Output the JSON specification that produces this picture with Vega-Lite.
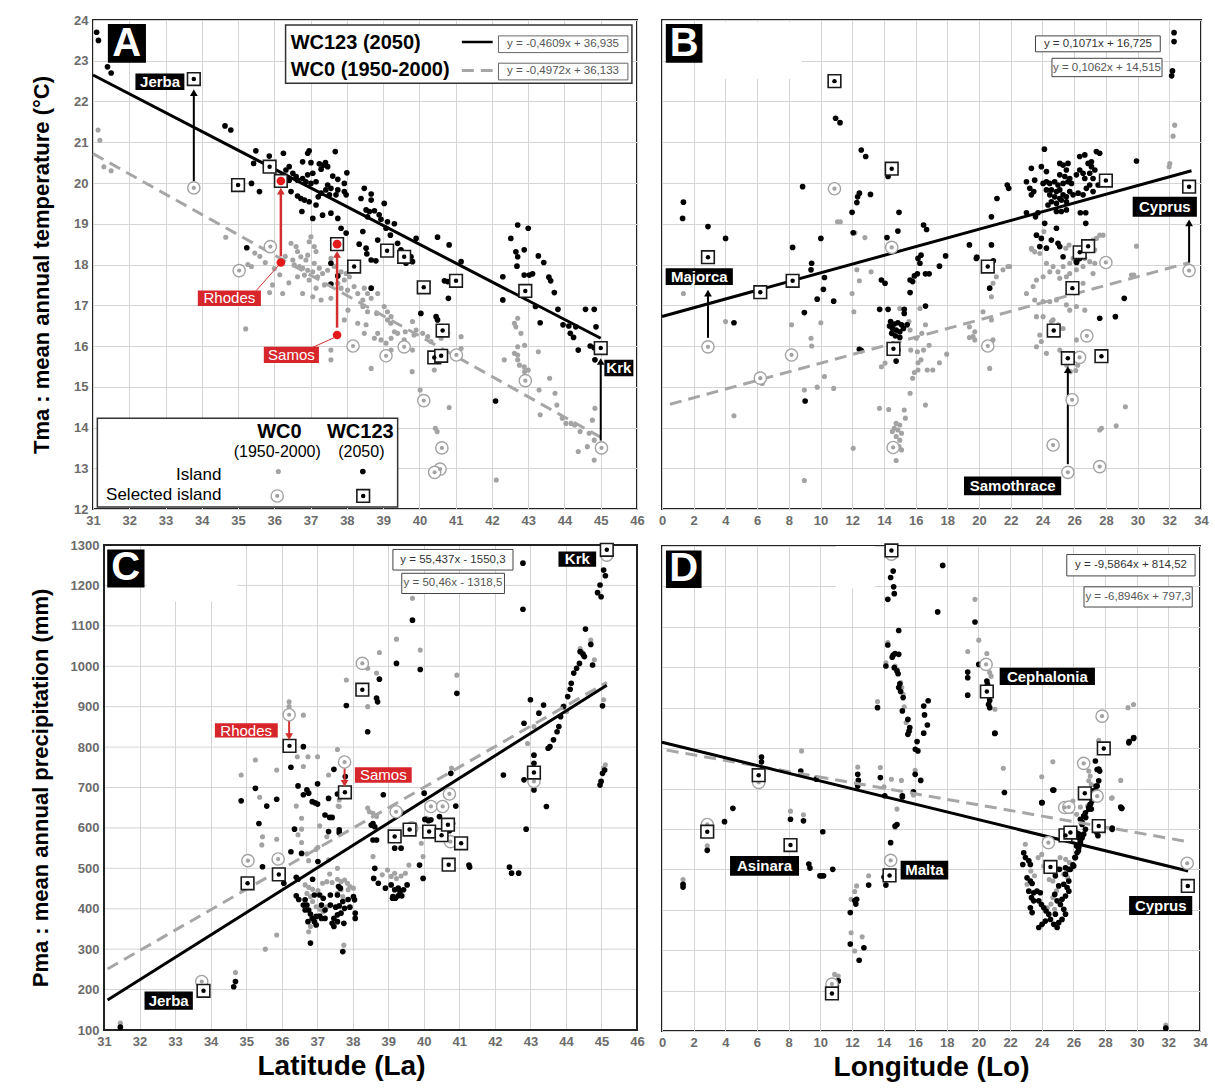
{
"$schema":"https://vega.github.io/schema/vega-lite/v6.json",
"padding":{"left":29,"top":13,"right":0,"bottom":0},
"config":{"font":"Liberation Sans","view":{"stroke":"#222","strokeWidth":2},
"axis":{"gridColor":"#d4d4d4","gridWidth":1,"domain":false,"ticks":false,"labelFont":"Liberation Sans","labelFontWeight":"bold","labelFontSize":13,"labelColor":"#6b6b6b","labelPadding":5,"titleFont":"Liberation Sans","titleFontWeight":"bold","titleColor":"#000","labelFlush":false,"labelOverlap":false,"minExtent":0}},
"datasets":{
"A0":[{"x":31.14,"y":21.3},{"x":31.19,"y":21.05},{"x":31.3,"y":20.4},{"x":31.5,"y":20.3},{"x":34.66,"y":18.67},{"x":35.27,"y":18.0},{"x":35.46,"y":18.28},{"x":35.21,"y":16.42},{"x":35.87,"y":17.31},{"x":35.6,"y":18.2},{"x":35.75,"y":18.05},{"x":36.0,"y":17.9},{"x":36.3,"y":18.2},{"x":36.15,"y":17.75},{"x":35.95,"y":17.5},{"x":36.4,"y":17.55},
{"x":36.46,"y":18.52},{"x":36.6,"y":18.44},{"x":36.64,"y":18.32},{"x":36.73,"y":18.19},{"x":36.87,"y":18.11},{"x":37.01,"y":18.68},{"x":36.96,"y":18.56},{"x":37.1,"y":18.44},{"x":37.15,"y":18.32},{"x":36.92,"y":18.23},{"x":36.51,"y":18.11},{"x":36.55,"y":17.99},{"x":36.69,"y":17.95},{"x":36.78,"y":17.91},{"x":36.92,"y":17.86},{"x":37.06,"y":17.82},{"x":36.83,"y":17.74},{"x":36.64,"y":17.7},{"x":36.96,"y":17.62},{"x":37.19,"y":17.7},{"x":37.33,"y":17.78},{"x":37.24,"y":17.91},{"x":37.1,"y":18.03},{"x":37.47,"y":17.86},{"x":37.56,"y":18.15},{"x":37.65,"y":17.95},{"x":37.84,"y":17.82},{"x":37.98,"y":17.78},{"x":38.07,"y":17.7},{"x":37.93,"y":17.62},{"x":37.75,"y":17.54},{"x":37.38,"y":17.5},{"x":37.15,"y":17.42},{"x":36.78,"y":17.29},{"x":36.23,"y":17.29},{"x":37.06,"y":17.21},{"x":37.29,"y":17.13},{"x":37.56,"y":17.17},{"x":37.84,"y":17.42},{"x":38.02,"y":17.37},{"x":38.2,"y":17.46},{"x":38.3,"y":17.29},{"x":38.48,"y":17.42},{"x":38.57,"y":17.29},{"x":38.44,"y":17.13},{"x":38.67,"y":17.17},{"x":38.85,"y":17.29},{"x":39.03,"y":16.97},{"x":39.12,"y":16.84},{"x":39.22,"y":16.72},{"x":39.12,"y":16.64},{"x":38.57,"y":16.84},{"x":38.44,"y":16.97},{"x":38.53,"y":16.52},{"x":38.48,"y":16.31},{"x":38.3,"y":16.56},{"x":37.93,"y":16.64},{"x":38.85,"y":16.31},{"x":38.94,"y":16.15},{"x":38.76,"y":16.19},{"x":39.22,"y":16.19},{"x":39.08,"y":16.07},{"x":39.22,"y":15.9},{"x":39.58,"y":16.15},{"x":39.4,"y":16.31},{"x":39.81,"y":16.6},{"x":39.91,"y":16.39},{"x":40.09,"y":16.31},{"x":40.23,"y":16.23},{"x":39.81,"y":15.9},{"x":40.32,"y":16.11},{"x":40.6,"y":16.19},{"x":40.78,"y":16.31},{"x":41.15,"y":16.23},{"x":40.41,"y":15.41},{"x":41.15,"y":15.94},{"x":35.37,"y":17.95},{"x":37.56,"y":15.9},{"x":37.56,"y":15.66},{"x":38.67,"y":15.45},{"x":42.62,"y":16.56},{"x":42.71,"y":16.68},{"x":42.8,"y":16.31},{"x":42.71,"y":15.98},{"x":42.62,"y":15.82},{"x":42.71,"y":15.66},{"x":42.89,"y":15.49},{"x":42.34,"y":15.66},
{"x":40.82,"y":14.49},{"x":42.71,"y":15.78},{"x":42.76,"y":15.53},{"x":42.9,"y":15.37},{"x":43.0,"y":15.41},{"x":43.0,"y":15.13},{"x":43.3,"y":14.92},{"x":43.33,"y":14.31},{"x":43.59,"y":15.21},{"x":43.74,"y":14.84},{"x":43.79,"y":14.55},{"x":43.94,"y":14.23},{"x":44.04,"y":14.1},{"x":44.18,"y":14.1},{"x":44.28,"y":14.06},{"x":44.43,"y":13.9},{"x":44.38,"y":13.41},{"x":44.63,"y":13.53},{"x":44.82,"y":13.69},{"x":44.82,"y":13.2},{"x":44.84,"y":14.47},{"x":44.77,"y":14.18},{"x":44.68,"y":13.86},{"x":43.28,"y":15.86},{"x":42.66,"y":16.47},{"x":42.9,"y":16.02},{"x":42.12,"y":12.71},{"x":40.02,"y":14.92},{"x":40.44,"y":13.98},{"x":40.49,"y":13.9},{"x":39.8,"y":15.37},{"x":38.03,"y":16.88},{"x":38.82,"y":16.8},{"x":39.21,"y":16.56},{"x":39.31,"y":16.35},{"x":39.61,"y":16.35},{"x":39.85,"y":16.27},
{"x":36.11,"y":12.92}],
"A1":[{"x":31.1,"y":23.7},{"x":31.15,"y":23.5},{"x":31.4,"y":22.85},{"x":31.5,"y":22.7},{"x":34.64,"y":21.4},{"x":34.8,"y":21.3},
{"x":35.49,"y":20.79},{"x":36.25,"y":20.73},{"x":35.86,"y":20.66},{"x":36.96,"y":20.79},{"x":36.92,"y":20.73},{"x":36.78,"y":20.52},{"x":37.01,"y":20.5},{"x":37.68,"y":20.77},{"x":37.24,"y":20.47},{"x":37.36,"y":20.44},{"x":37.47,"y":20.4},{"x":37.41,"y":20.5},{"x":37.29,"y":20.34},{"x":36.41,"y":20.4},{"x":36.32,"y":20.32},{"x":36.51,"y":20.24},{"x":36.6,"y":20.16},{"x":36.41,"y":20.07},{"x":36.64,"y":20.07},{"x":36.28,"y":19.99},{"x":36.78,"y":20.11},{"x":36.92,"y":20.2},{"x":37.06,"y":20.24},{"x":36.87,"y":20.03},{"x":37.01,"y":19.99},{"x":37.15,"y":20.03},{"x":38.0,"y":20.25},{"x":37.61,"y":20.17},{"x":37.75,"y":20.09},{"x":37.93,"y":19.99},{"x":37.47,"y":19.95},{"x":37.42,"y":19.83},{"x":37.56,"y":19.87},{"x":37.75,"y":19.83},{"x":37.93,"y":19.79},{"x":37.98,"y":19.71},{"x":37.7,"y":19.71},{"x":37.52,"y":19.71},{"x":37.29,"y":19.75},{"x":37.21,"y":19.66},{"x":36.96,"y":19.54},{"x":36.73,"y":19.62},{"x":36.64,"y":19.68},{"x":36.83,"y":19.58},{"x":36.46,"y":19.79},{"x":35.59,"y":19.79},{"x":35.37,"y":19.99},{"x":35.43,"y":20.48},{"x":37.15,"y":19.46},{"x":37.33,"y":19.21},{"x":37.06,"y":19.13},{"x":37.56,"y":19.26},{"x":37.75,"y":19.13},{"x":36.76,"y":19.3},{"x":37.84,"y":18.89},{"x":37.98,"y":18.77},{"x":38.48,"y":19.87},{"x":38.67,"y":19.73},{"x":38.39,"y":19.62},{"x":39.03,"y":19.5},{"x":38.67,"y":19.58},{"x":38.53,"y":19.34},{"x":38.62,"y":19.3},{"x":38.76,"y":19.32},{"x":38.89,"y":19.22},{"x":38.57,"y":19.17},{"x":38.94,"y":19.11},{"x":39.12,"y":19.05},{"x":39.31,"y":19.0},{"x":39.08,"y":18.89},{"x":39.2,"y":18.72},{"x":38.44,"y":18.81},{"x":38.85,"y":18.6},{"x":38.34,"y":18.5},{"x":38.53,"y":18.4},{"x":38.55,"y":18.26},{"x":38.67,"y":18.11},{"x":38.8,"y":18.09},{"x":39.4,"y":18.52},{"x":39.49,"y":18.36},{"x":39.91,"y":18.64},{"x":40.5,"y":18.67},{"x":40.82,"y":18.48},{"x":39.77,"y":18.19},{"x":39.81,"y":18.07},{"x":39.63,"y":18.03},{"x":40.78,"y":17.58},{"x":40.69,"y":17.6},{"x":40.8,"y":17.17},{"x":40.04,"y":16.8},{"x":40.46,"y":16.72},{"x":40.5,"y":16.64},{"x":35.24,"y":18.41},{"x":37.56,"y":18.03},{"x":37.56,"y":17.52},{"x":37.75,"y":17.72},{"x":38.67,"y":17.42},{"x":42.71,"y":18.97},{"x":43.0,"y":18.89},{"x":42.52,"y":18.64},{"x":42.89,"y":18.36},{"x":42.66,"y":18.31},{"x":42.71,"y":18.19},{"x":42.3,"y":17.7},{"x":42.3,"y":17.13},{"x":42.89,"y":17.74},{"x":43.03,"y":17.74},{"x":42.8,"y":17.29},{"x":41.15,"y":18.07},
{"x":43.28,"y":18.21},{"x":43.43,"y":18.05},{"x":42.69,"y":17.96},{"x":43.12,"y":17.77},{"x":43.57,"y":17.69},{"x":43.62,"y":17.6},{"x":43.72,"y":17.31},{"x":43.2,"y":16.97},{"x":43.33,"y":16.57},{"x":43.82,"y":16.9},{"x":43.96,"y":16.52},{"x":44.12,"y":16.49},{"x":44.16,"y":16.31},{"x":44.25,"y":16.21},{"x":44.31,"y":16.47},{"x":44.58,"y":16.9},{"x":44.82,"y":16.9},{"x":44.87,"y":16.47},{"x":44.38,"y":15.9},{"x":44.71,"y":16.0},{"x":44.82,"y":15.96},{"x":44.84,"y":15.66},{"x":44.94,"y":15.9},{"x":42.1,"y":14.65},
{"x":38.44,"y":12.92}],
"Ac":[{"x":33.78,"y":19.88},{"x":35.03,"y":17.85},{"x":35.89,"y":18.44},{"x":38.17,"y":16.0},{"x":39.08,"y":15.76},{"x":39.58,"y":15.98},{"x":41.02,"y":15.78},{"x":40.12,"y":14.66},{"x":40.62,"y":13.5},{"x":40.57,"y":12.98},{"x":40.42,"y":12.9},{"x":42.92,"y":15.15},{"x":45.02,"y":13.5},{"x":36.08,"y":12.32}],
"As":[{"x":33.78,"y":22.55},{"x":35.0,"y":19.95},{"x":35.87,"y":20.4},{"x":36.18,"y":20.05},{"x":37.73,"y":18.5},{"x":38.2,"y":17.95},{"x":39.11,"y":18.34},{"x":39.58,"y":18.19},{"x":40.12,"y":17.44},{"x":41.01,"y":17.6},{"x":40.64,"y":16.38},{"x":40.41,"y":15.72},{"x":40.6,"y":15.76},{"x":42.92,"y":17.35},{"x":45.0,"y":15.95},{"x":38.45,"y":12.32}],
"red":[{"x":36.18,"y":18.05},{"x":37.73,"y":16.27},{"x":36.18,"y":20.05},{"x":37.73,"y":18.5}],
"B0":[{"x":1.35,"y":17.29},{"x":4.01,"y":16.6},{"x":4.54,"y":14.29},{"x":6.32,"y":15.08},{"x":8.17,"y":16.52},{"x":8.98,"y":14.92},{"x":9.79,"y":14.99},{"x":10.83,"y":14.96},{"x":9.4,"y":16.19},{"x":9.44,"y":16.0},{"x":10.02,"y":16.57},{"x":10.25,"y":15.25},{"x":8.98,"y":12.7},{"x":12.1,"y":16.84},{"x":12.29,"y":17.87},{"x":12.45,"y":17.6},{"x":13.19,"y":17.82},{"x":11.99,"y":17.29},{"x":12.06,"y":13.49},{"x":13.84,"y":15.49},{"x":14.07,"y":15.58},{"x":13.72,"y":14.47},{"x":14.3,"y":14.44},{"x":14.77,"y":14.1},{"x":15.0,"y":14.06},{"x":14.65,"y":13.98},{"x":14.88,"y":13.94},{"x":14.53,"y":13.9},{"x":15.11,"y":13.86},{"x":14.77,"y":13.78},{"x":15.0,"y":13.69},{"x":15.28,"y":14.43},{"x":15.35,"y":14.23},{"x":15.11,"y":13.45},{"x":14.77,"y":13.19},{"x":14.95,"y":13.53},{"x":14.42,"y":13.53},{"x":15.0,"y":16.92},{"x":15.58,"y":16.6},{"x":15.65,"y":14.84},{"x":16.04,"y":16.19},{"x":15.81,"y":15.21},{"x":15.92,"y":15.35},{"x":16.15,"y":15.59},{"x":16.34,"y":15.66},{"x":16.5,"y":15.9},{"x":16.62,"y":14.55},{"x":16.85,"y":16.02},{"x":16.73,"y":15.41},{"x":17.08,"y":15.41},{"x":17.5,"y":15.59},{"x":17.96,"y":15.8},{"x":16.11,"y":15.86},{"x":16.39,"y":16.31},{"x":16.62,"y":16.52},{"x":16.27,"y":16.92},{"x":15.65,"y":16.39},{"x":15.69,"y":15.9},{"x":16.15,"y":15.41},{"x":19.39,"y":16.47},{"x":19.39,"y":16.21},{"x":27.61,"y":13.94},{"x":27.72,"y":13.98},{"x":28.65,"y":14.04},{"x":29.23,"y":14.51},
{"x":32.34,"y":21.42},{"x":32.24,"y":21.15},{"x":32.03,"y":20.48},{"x":31.99,"y":20.4},{"x":29.93,"y":18.45},{"x":29.61,"y":17.74},{"x":27.61,"y":18.72},{"x":27.82,"y":18.72},{"x":27.4,"y":18.64},{"x":27.19,"y":18.6},{"x":26.98,"y":18.52},{"x":27.09,"y":18.44},{"x":27.3,"y":18.36},{"x":26.67,"y":18.15},{"x":26.98,"y":18.07},{"x":27.3,"y":18.03},{"x":26.56,"y":17.95},{"x":26.14,"y":17.87},{"x":25.72,"y":17.78},{"x":25.51,"y":17.7},{"x":25.09,"y":17.66},{"x":24.98,"y":17.82},{"x":24.67,"y":17.95},{"x":24.25,"y":18.03},{"x":24.46,"y":17.82},{"x":24.04,"y":17.7},{"x":23.62,"y":17.62},{"x":23.3,"y":18.4},{"x":23.51,"y":18.31},{"x":23.83,"y":18.27},{"x":25.3,"y":17.95},{"x":25.72,"y":18.03},{"x":25.93,"y":18.15},{"x":26.25,"y":18.11},{"x":25.47,"y":18.4},{"x":25.68,"y":18.48},{"x":23.41,"y":17.46},{"x":22.99,"y":17.29},{"x":23.51,"y":17.13},{"x":24.04,"y":17.09},{"x":24.46,"y":17.09},{"x":24.88,"y":17.13},{"x":25.51,"y":17.01},{"x":26.14,"y":16.97},{"x":26.56,"y":17.54},{"x":27.19,"y":17.78},{"x":26.67,"y":16.88},{"x":25.72,"y":16.88},{"x":24.67,"y":16.64},{"x":24.04,"y":16.72},{"x":23.62,"y":16.72},{"x":24.56,"y":16.6},{"x":24.98,"y":16.52},{"x":25.3,"y":16.43},{"x":23.83,"y":16.27},{"x":23.93,"y":16.11},{"x":23.62,"y":15.98},{"x":25.09,"y":15.9},{"x":25.61,"y":15.82},{"x":26.14,"y":16.15},{"x":24.25,"y":15.82},{"x":21.93,"y":17.95},{"x":21.51,"y":17.87},{"x":21.09,"y":17.7},{"x":20.88,"y":17.54},{"x":20.78,"y":17.21},{"x":20.25,"y":16.84},{"x":20.78,"y":16.64},{"x":19.73,"y":16.35},{"x":19.62,"y":16.23},{"x":19.73,"y":16.15},{"x":20.88,"y":16.15},{"x":20.67,"y":15.45},{"x":21.82,"y":17.95},{"x":26.22,"y":15.53},{"x":25.53,"y":15.53},{"x":26.1,"y":15.4},{"x":25.76,"y":15.37},{"x":29.76,"y":17.74},
{"x":11.07,"y":19.05},{"x":11.25,"y":19.05},{"x":12.17,"y":18.78},{"x":12.8,"y":18.66},{"x":24.09,"y":18.81},{"x":23.33,"y":18.37}],
"B1":[{"x":32.3,"y":23.69},{"x":32.3,"y":23.47},{"x":32.2,"y":22.75},{"x":32.15,"y":22.63},{"x":1.35,"y":19.53},{"x":1.3,"y":19.13},{"x":2.9,"y":18.93},{"x":4.01,"y":18.64},{"x":8.87,"y":19.91},{"x":10.95,"y":21.59},{"x":11.23,"y":21.48},{"x":12.57,"y":20.81},{"x":12.85,"y":20.65},{"x":12.34,"y":19.66},{"x":12.45,"y":19.75},{"x":12.29,"y":19.52},{"x":13.15,"y":19.72},{"x":11.99,"y":19.28},{"x":12.06,"y":18.78},{"x":14.19,"y":18.66},{"x":14.26,"y":20.16},{"x":14.95,"y":19.28},{"x":14.88,"y":18.82},{"x":10.02,"y":18.64},{"x":8.24,"y":18.42},{"x":16.5,"y":18.97},{"x":16.69,"y":18.86},{"x":19.39,"y":18.48},{"x":20.78,"y":19.17},{"x":20.78,"y":18.48},{"x":21.13,"y":19.62},{"x":21.78,"y":19.95},{"x":21.87,"y":19.87},
{"x":24.12,"y":20.83},{"x":23.3,"y":20.36},{"x":23.93,"y":20.4},{"x":24.25,"y":20.28},{"x":22.99,"y":20.03},{"x":23.51,"y":20.07},{"x":23.2,"y":19.87},{"x":23.45,"y":19.79},{"x":23.3,"y":19.71},{"x":24.04,"y":19.99},{"x":24.25,"y":20.03},{"x":24.46,"y":19.99},{"x":24.77,"y":20.03},{"x":24.98,"y":19.95},{"x":25.3,"y":19.99},{"x":25.61,"y":20.03},{"x":25.83,"y":19.99},{"x":25.09,"y":20.48},{"x":25.3,"y":20.44},{"x":25.61,"y":20.48},{"x":25.51,"y":20.32},{"x":25.09,"y":20.2},{"x":25.41,"y":20.16},{"x":25.72,"y":20.11},{"x":24.25,"y":19.83},{"x":24.56,"y":19.83},{"x":24.88,"y":19.79},{"x":25.09,"y":19.83},{"x":24.46,"y":19.71},{"x":24.77,"y":19.66},{"x":25.09,"y":19.62},{"x":25.3,"y":19.71},{"x":25.51,"y":19.66},{"x":25.72,"y":19.79},{"x":25.93,"y":19.71},{"x":26.25,"y":19.75},{"x":26.56,"y":19.71},{"x":24.56,"y":19.54},{"x":24.35,"y":19.46},{"x":24.88,"y":19.5},{"x":25.19,"y":19.58},{"x":25.51,"y":19.54},{"x":26.35,"y":20.65},{"x":26.67,"y":20.69},{"x":26.88,"y":20.48},{"x":27.09,"y":20.4},{"x":27.3,"y":20.32},{"x":27.4,"y":20.77},{"x":27.61,"y":20.73},{"x":27.09,"y":20.52},{"x":26.98,"y":20.24},{"x":27.19,"y":20.11},{"x":26.98,"y":19.95},{"x":26.77,"y":19.87},{"x":27.19,"y":19.79},{"x":27.51,"y":19.95},{"x":26.35,"y":20.32},{"x":26.56,"y":20.24},{"x":26.14,"y":20.2},{"x":26.67,"y":20.11},{"x":23.72,"y":19.27},{"x":22.99,"y":19.27},{"x":23.56,"y":19.17},{"x":25.51,"y":19.34},{"x":25.19,"y":19.3},{"x":24.88,"y":19.3},{"x":26.39,"y":19.27},{"x":26.73,"y":19.27},{"x":26.73,"y":19.01},{"x":24.88,"y":18.89},{"x":24.14,"y":19.01},{"x":23.62,"y":18.72},{"x":23.93,"y":18.64},{"x":23.83,"y":18.44},{"x":24.25,"y":18.4},{"x":24.56,"y":18.6},{"x":24.98,"y":18.52},{"x":25.09,"y":18.44},{"x":25.3,"y":18.19},{"x":26.14,"y":18.07},{"x":26.35,"y":18.15},{"x":26.56,"y":18.31},{"x":26.88,"y":18.52},{"x":19.83,"y":18.15},{"x":29.93,"y":20.54},
{"x":9.44,"y":18.03},{"x":9.4,"y":17.87},{"x":10.25,"y":17.68},{"x":10.18,"y":17.39},{"x":9.79,"y":17.15},{"x":10.83,"y":17.1},{"x":8.98,"y":16.82},{"x":4.54,"y":16.57},{"x":9.03,"y":14.65},{"x":12.45,"y":15.92},{"x":12.57,"y":15.89},{"x":13.73,"y":16.9},{"x":14.26,"y":16.9},{"x":13.84,"y":17.62},{"x":14.07,"y":17.54},{"x":14.42,"y":16.6},{"x":14.65,"y":16.54},{"x":14.88,"y":16.57},{"x":15.11,"y":16.52},{"x":14.53,"y":16.43},{"x":14.77,"y":16.39},{"x":15.0,"y":16.35},{"x":15.23,"y":16.43},{"x":14.49,"y":16.31},{"x":14.72,"y":16.25},{"x":15.0,"y":16.21},{"x":14.58,"y":16.05},{"x":14.88,"y":15.9},{"x":14.77,"y":15.63},{"x":14.35,"y":16.49},{"x":15.46,"y":16.52},{"x":15.28,"y":16.9},{"x":15.28,"y":16.8},{"x":15.65,"y":17.31},{"x":15.81,"y":17.58},{"x":15.65,"y":17.62},{"x":15.92,"y":17.72},{"x":16.11,"y":17.77},{"x":16.27,"y":18.03},{"x":16.15,"y":18.15},{"x":16.34,"y":18.23},{"x":16.62,"y":17.77},{"x":16.85,"y":17.77},{"x":17.5,"y":17.96},{"x":17.89,"y":18.21},{"x":16.62,"y":16.98},{"x":19.86,"y":18.18},{"x":20.9,"y":18.09},{"x":20.67,"y":17.42},{"x":26.15,"y":18.05},{"x":29.16,"y":17.17},{"x":27.61,"y":16.68},{"x":28.6,"y":16.72}],
"Bc":[{"x":2.9,"y":15.98},{"x":6.2,"y":15.21},{"x":8.17,"y":15.78},{"x":10.88,"y":19.86},{"x":14.49,"y":18.42},{"x":14.58,"y":13.51},{"x":20.55,"y":16.0},{"x":24.67,"y":13.57},{"x":25.6,"y":12.9},{"x":25.87,"y":14.68},{"x":26.34,"y":15.72},{"x":26.8,"y":16.25},{"x":27.61,"y":13.04},{"x":28.0,"y":18.05},{"x":33.25,"y":17.85}],
"Bs":[{"x":2.9,"y":18.18},{"x":6.2,"y":17.32},{"x":8.24,"y":17.6},{"x":10.88,"y":22.5},{"x":14.49,"y":20.35},{"x":14.6,"y":15.93},{"x":20.55,"y":17.95},{"x":24.71,"y":16.38},{"x":25.6,"y":15.7},{"x":25.89,"y":17.42},{"x":26.35,"y":18.3},{"x":26.88,"y":18.45},{"x":28.0,"y":20.06},{"x":27.72,"y":15.75},{"x":33.25,"y":19.91}],
"C0":[{"x":39.68,"y":1168},{"x":39.23,"y":1067},{"x":39.9,"y":1040},{"x":38.75,"y":1034},{"x":38.42,"y":995},{"x":37.82,"y":966},{"x":38.67,"y":983},{"x":38.42,"y":900},{"x":40.93,"y":978},{"x":36.21,"y":912},{"x":36.21,"y":900},{"x":36.61,"y":879},{"x":35.26,"y":768},{"x":34.86,"y":731},{"x":35.86,"y":743},{"x":36.44,"y":776},{"x":36.74,"y":776},{"x":36.61,"y":752},{"x":37.01,"y":776},{"x":37.57,"y":794},{"x":37.32,"y":731},{"x":37.62,"y":669},{"x":37.62,"y":653},{"x":40.78,"y":748},{"x":43.1,"y":851},{"x":42.92,"y":809},{"x":43.95,"y":902},{"x":44.02,"y":888},{"x":44.4,"y":1044},{"x":44.45,"y":1036},{"x":44.7,"y":1065},{"x":44.8,"y":1016},{"x":44.5,"y":1024},{"x":45.06,"y":917},{"x":45.11,"y":756},{"x":45.06,"y":748},
{"x":35.38,"y":676},{"x":36.41,"y":654},{"x":35.86,"y":572},{"x":35.44,"y":558},{"x":36.56,"y":597},{"x":36.56,"y":564},{"x":36.76,"y":519},{"x":36.71,"y":536},{"x":37.07,"y":605},{"x":37.27,"y":578},{"x":37.32,"y":521},{"x":37.35,"y":486},{"x":37.57,"y":500},{"x":36.97,"y":547},{"x":37.02,"y":552},{"x":36.66,"y":459},{"x":36.76,"y":453},{"x":36.87,"y":448},{"x":37.02,"y":445},{"x":37.15,"y":463},{"x":37.27,"y":467},{"x":37.42,"y":465},{"x":37.57,"y":473},{"x":37.67,"y":467},{"x":37.77,"y":471},{"x":37.85,"y":463},{"x":37.92,"y":455},{"x":38.02,"y":451},{"x":37.67,"y":447},{"x":37.57,"y":438},{"x":36.71,"y":438},{"x":36.81,"y":430},{"x":36.87,"y":418},{"x":36.97,"y":405},{"x":37.07,"y":399},{"x":37.17,"y":393},{"x":37.27,"y":405},{"x":37.72,"y":430},{"x":37.87,"y":447},{"x":36.76,"y":343},{"x":36.81,"y":356},{"x":37.75,"y":310},{"x":35.86,"y":335},{"x":35.54,"y":300},{"x":34.7,"y":242},{"x":31.46,"y":117},{"x":36.56,"y":624},{"x":36.46,"y":583},{"x":35.46,"y":578},{"x":37.59,"y":654},{"x":38.42,"y":649},{"x":38.47,"y":640},{"x":38.57,"y":636},{"x":38.67,"y":628},{"x":38.57,"y":529},{"x":38.83,"y":484},{"x":38.98,"y":496},{"x":39.08,"y":480},{"x":39.18,"y":488},{"x":39.23,"y":475},{"x":39.36,"y":481},{"x":39.48,"y":488},{"x":39.58,"y":508},{"x":39.13,"y":636},{"x":39.38,"y":640},{"x":39.23,"y":646},{"x":39.66,"y":607},{"x":39.93,"y":562},{"x":39.98,"y":529},{"x":40.08,"y":624}],
"C1":[{"x":42.79,"y":1255},{"x":42.79,"y":1141},{"x":39.68,"y":1114},{"x":39.23,"y":1007},{"x":39.9,"y":992},{"x":38.75,"y":968},{"x":38.67,"y":921},{"x":38.7,"y":912},{"x":37.82,"y":903},{"x":38.42,"y":838},{"x":40.93,"y":933},{"x":45.06,"y":1238},{"x":45.11,"y":1224},{"x":44.96,"y":1201},{"x":44.89,"y":1182},{"x":44.99,"y":1172},{"x":44.55,"y":1092},{"x":44.7,"y":1054},{"x":44.4,"y":1036},{"x":44.48,"y":1030},{"x":44.52,"y":1024},{"x":44.38,"y":1007},{"x":44.3,"y":995},{"x":44.22,"y":983},{"x":44.75,"y":1003},{"x":44.15,"y":958},{"x":44.12,"y":943},{"x":44.05,"y":925},{"x":43.93,"y":900},{"x":43.85,"y":875},{"x":43.8,"y":851},{"x":43.75,"y":838},{"x":43.65,"y":818},{"x":43.55,"y":801},{"x":43.5,"y":797},{"x":45.03,"y":902},{"x":45.03,"y":735},{"x":44.99,"y":715},{"x":44.96,"y":706},{"x":45.09,"y":743},{"x":43.0,"y":917},{"x":43.37,"y":904},{"x":43.24,"y":884},{"x":42.82,"y":859},{"x":43.1,"y":780},{"x":43.1,"y":760},{"x":43.08,"y":748},{"x":43.05,"y":720},{"x":42.82,"y":719},{"x":43.1,"y":694},{"x":42.24,"y":731},{"x":40.76,"y":735},{"x":40.9,"y":654},{"x":40.63,"y":682},{"x":43.45,"y":653},{"x":38.86,"y":682},{"x":37.47,"y":745},{"x":37.79,"y":727},{"x":36.61,"y":801},{"x":36.26,"y":750},{"x":36.46,"y":704},{"x":36.61,"y":682},{"x":36.71,"y":694},{"x":36.76,"y":686},{"x":36.86,"y":665},{"x":36.94,"y":662},{"x":37.01,"y":659},{"x":37.01,"y":709},{"x":37.32,"y":673},{"x":37.57,"y":684},{"x":35.26,"y":698},{"x":34.86,"y":667},{"x":35.58,"y":654},{"x":35.86,"y":671},
{"x":35.36,"y":611},{"x":35.46,"y":504},{"x":37.22,"y":632},{"x":37.35,"y":626},{"x":37.42,"y":626},{"x":37.32,"y":591},{"x":37.62,"y":595},{"x":37.62,"y":588},{"x":36.36,"y":597},{"x":36.26,"y":541},{"x":36.56,"y":537},{"x":37.02,"y":517},{"x":35.86,"y":521},{"x":36.06,"y":463},{"x":36.41,"y":478},{"x":36.46,"y":473},{"x":36.41,"y":432},{"x":36.48,"y":423},{"x":36.87,"y":473},{"x":36.92,"y":434},{"x":36.66,"y":422},{"x":36.71,"y":409},{"x":36.76,"y":397},{"x":36.81,"y":387},{"x":36.86,"y":376},{"x":36.97,"y":381},{"x":37.07,"y":382},{"x":36.92,"y":368},{"x":36.97,"y":360},{"x":37.12,"y":376},{"x":37.22,"y":376},{"x":37.17,"y":426},{"x":37.07,"y":434},{"x":37.12,"y":409},{"x":37.22,"y":397},{"x":37.37,"y":434},{"x":37.57,"y":434},{"x":37.65,"y":451},{"x":37.37,"y":409},{"x":37.52,"y":404},{"x":37.62,"y":407},{"x":37.72,"y":418},{"x":37.87,"y":423},{"x":38.02,"y":430},{"x":38.05,"y":422},{"x":37.92,"y":404},{"x":38.07,"y":389},{"x":38.07,"y":376},{"x":37.77,"y":401},{"x":37.67,"y":389},{"x":37.57,"y":385},{"x":37.47,"y":376},{"x":37.57,"y":368},{"x":37.42,"y":364},{"x":37.47,"y":356},{"x":37.75,"y":364},{"x":37.72,"y":294},{"x":36.81,"y":315},{"x":36.74,"y":368},{"x":36.61,"y":409},{"x":36.66,"y":397},{"x":38.57,"y":611},{"x":38.52,"y":607},{"x":38.62,"y":603},{"x":38.67,"y":570},{"x":38.57,"y":570},{"x":38.62,"y":500},{"x":38.59,"y":475},{"x":38.72,"y":463},{"x":38.92,"y":451},{"x":39.08,"y":459},{"x":39.18,"y":447},{"x":39.28,"y":451},{"x":39.33,"y":442},{"x":39.43,"y":447},{"x":39.53,"y":459},{"x":39.13,"y":430},{"x":39.28,"y":432},{"x":39.38,"y":432},{"x":39.18,"y":550},{"x":39.36,"y":550},{"x":39.88,"y":508},{"x":39.98,"y":475},{"x":40.03,"y":621},{"x":40.13,"y":618},{"x":40.58,"y":603},{"x":40.53,"y":591},{"x":41.27,"y":508},{"x":41.29,"y":503},{"x":42.41,"y":503},{"x":42.47,"y":488},{"x":42.67,"y":488},{"x":42.88,"y":597},{"x":34.65,"y":207},{"x":34.7,"y":220},{"x":31.46,"y":107},{"x":40.44,"y":628},{"x":40.2,"y":620},{"x":40.81,"y":611},{"x":40.72,"y":593},{"x":39.2,"y":426},{"x":39.12,"y":426},{"x":37.6,"y":455},{"x":40.01,"y":686}],
"Cc":[{"x":33.75,"y":220},{"x":35.05,"y":519},{"x":35.9,"y":523},{"x":36.21,"y":880},{"x":37.77,"y":763},{"x":38.27,"y":1007},{"x":39.22,"y":640},{"x":39.66,"y":600},{"x":40.2,"y":653},{"x":40.53,"y":653},{"x":40.72,"y":684},{"x":40.75,"y":566},{"x":43.1,"y":715},{"x":45.15,"y":1275}],
"Cs":[{"x":33.8,"y":197},{"x":35.04,"y":463},{"x":35.92,"y":485},{"x":36.22,"y":803},{"x":37.78,"y":688},{"x":38.27,"y":942},{"x":39.18,"y":579},{"x":39.6,"y":596},{"x":40.15,"y":591},{"x":40.5,"y":582},{"x":40.68,"y":608},{"x":41.05,"y":562},{"x":40.7,"y":509},{"x":43.1,"y":737},{"x":45.15,"y":1288}],
"D0":[{"x":19.78,"y":1168},{"x":20.02,"y":1067},{"x":19.32,"y":1039},{"x":19.32,"y":976},{"x":20.53,"y":1034},{"x":20.71,"y":987},{"x":20.8,"y":978},{"x":21.04,"y":896},{"x":14.27,"y":1061},{"x":14.15,"y":1011},{"x":14.73,"y":1003},{"x":14.85,"y":995},{"x":15.08,"y":962},{"x":15.15,"y":950},{"x":15.24,"y":933},{"x":15.31,"y":902},{"x":15.43,"y":863},{"x":15.66,"y":842},{"x":13.62,"y":915},{"x":16.0,"y":745},{"x":15.13,"y":720},{"x":14.5,"y":723},{"x":13.8,"y":752},{"x":12.37,"y":753},{"x":8.82,"y":793},{"x":9.75,"y":727},{"x":14.03,"y":704},{"x":15.89,"y":684},{"x":21.57,"y":750},{"x":24.0,"y":729},{"x":24.7,"y":766},{"x":29.8,"y":908},{"x":29.45,"y":900},{"x":27.6,"y":819},{"x":26.97,"y":743},{"x":27.06,"y":731},{"x":26.97,"y":719},{"x":27.13,"y":710},{"x":28.41,"y":676},{"x":28.99,"y":720},{"x":26.44,"y":686},{"x":25.39,"y":654},
{"x":2.86,"y":558},{"x":1.33,"y":475},{"x":8.12,"y":644},{"x":8.94,"y":635},{"x":10.91,"y":240},{"x":11.14,"y":236},{"x":11.95,"y":343},{"x":12.65,"y":333},{"x":12.18,"y":298},{"x":12.18,"y":445},{"x":12.3,"y":459},{"x":11.95,"y":426},{"x":13.06,"y":484},{"x":14.73,"y":603},{"x":14.85,"y":649},{"x":28.45,"y":677},{"x":31.84,"y":115},{"x":22.96,"y":562},{"x":23.19,"y":521},{"x":23.31,"y":496},{"x":23.54,"y":484},{"x":23.07,"y":463},{"x":23.77,"y":529},{"x":24.0,"y":537},{"x":24.12,"y":508},{"x":24.35,"y":513},{"x":24.47,"y":475},{"x":24.7,"y":471},{"x":24.93,"y":504},{"x":25.16,"y":529},{"x":25.51,"y":525},{"x":25.74,"y":517},{"x":25.39,"y":488},{"x":25.63,"y":480},{"x":24.93,"y":447},{"x":24.7,"y":430},{"x":24.58,"y":414},{"x":24.35,"y":405},{"x":24.81,"y":401},{"x":25.39,"y":657},{"x":25.74,"y":661},{"x":25.97,"y":669},{"x":25.86,"y":644},{"x":26.2,"y":636},{"x":26.44,"y":654},{"x":26.9,"y":657}],
"D1":[{"x":17.74,"y":1252},{"x":14.45,"y":1222},{"x":14.61,"y":1238},{"x":14.64,"y":1199},{"x":14.68,"y":1182},{"x":14.27,"y":1168},{"x":17.42,"y":1137},{"x":19.78,"y":1112},{"x":14.96,"y":1091},{"x":14.27,"y":1055},{"x":14.55,"y":1025},{"x":14.73,"y":1034},{"x":14.96,"y":1032},{"x":14.61,"y":1030},{"x":14.15,"y":1003},{"x":14.68,"y":999},{"x":14.85,"y":991},{"x":14.92,"y":984},{"x":15.03,"y":959},{"x":14.96,"y":950},{"x":15.08,"y":940},{"x":15.24,"y":925},{"x":15.19,"y":892},{"x":15.54,"y":871},{"x":15.66,"y":851},{"x":15.61,"y":842},{"x":15.54,"y":834},{"x":16.54,"y":904},{"x":16.82,"y":917},{"x":16.59,"y":882},{"x":16.77,"y":857},{"x":16.54,"y":837},{"x":16.12,"y":816},{"x":16.01,"y":797},{"x":16.17,"y":793},{"x":13.62,"y":900},{"x":19.32,"y":988},{"x":19.32,"y":974},{"x":19.32,"y":931},{"x":20.02,"y":1007},{"x":20.53,"y":966},{"x":20.57,"y":958},{"x":20.64,"y":929},{"x":20.71,"y":918},{"x":20.64,"y":908},{"x":20.71,"y":900},{"x":21.04,"y":837},{"x":21.64,"y":690},{"x":24.0,"y":665},{"x":24.7,"y":696},{"x":29.52,"y":816},{"x":29.8,"y":824},{"x":27.6,"y":748},{"x":27.66,"y":743},{"x":27.43,"y":706},{"x":27.25,"y":694},{"x":28.99,"y":654},{"x":27.06,"y":661},{"x":26.97,"y":653},{"x":27.13,"y":649},{"x":6.29,"y":778},{"x":6.29,"y":766},{"x":8.77,"y":743},{"x":9.75,"y":723},{"x":12.37,"y":735},{"x":12.41,"y":720},{"x":12.37,"y":706},{"x":13.8,"y":727},{"x":15.19,"y":682},{"x":16.0,"y":735},{"x":16.35,"y":720},{"x":15.89,"y":692},{"x":14.08,"y":682},{"x":4.48,"y":651},
{"x":3.95,"y":618},{"x":2.86,"y":547},{"x":1.33,"y":463},{"x":1.33,"y":456},{"x":8.12,"y":624},{"x":8.94,"y":620},{"x":9.28,"y":513},{"x":9.35,"y":503},{"x":10.09,"y":484},{"x":9.98,"y":484},{"x":10.21,"y":484},{"x":10.79,"y":500},{"x":10.16,"y":593},{"x":13.06,"y":461},{"x":11.9,"y":393},{"x":12.18,"y":423},{"x":12.3,"y":426},{"x":12.25,"y":414},{"x":11.9,"y":315},{"x":12.76,"y":306},{"x":12.46,"y":275},{"x":10.84,"y":220},{"x":11.02,"y":212},{"x":11.14,"y":224},{"x":14.15,"y":461},{"x":14.03,"y":481},{"x":14.45,"y":566},{"x":14.73,"y":607},{"x":14.85,"y":611},{"x":15.19,"y":679},{"x":26.67,"y":632},{"x":26.78,"y":628},{"x":26.55,"y":616},{"x":26.32,"y":588},{"x":26.44,"y":570},{"x":26.2,"y":558},{"x":26.32,"y":546},{"x":26.09,"y":529},{"x":25.97,"y":511},{"x":27.48,"y":591},{"x":27.55,"y":583},{"x":28.45,"y":599},{"x":29.06,"y":651},{"x":31.84,"y":107},
{"x":22.86,"y":541},{"x":22.97,"y":529},{"x":22.8,"y":512},{"x":23.18,"y":521},{"x":23.28,"y":512},{"x":23.07,"y":479},{"x":23.28,"y":471},{"x":23.39,"y":465},{"x":23.18,"y":446},{"x":23.49,"y":442},{"x":23.7,"y":446},{"x":23.91,"y":442},{"x":23.35,"y":430},{"x":23.49,"y":422},{"x":23.28,"y":405},{"x":23.39,"y":393},{"x":23.81,"y":422},{"x":23.98,"y":413},{"x":24.13,"y":405},{"x":24.27,"y":397},{"x":24.44,"y":389},{"x":24.55,"y":376},{"x":24.23,"y":372},{"x":24.02,"y":364},{"x":23.81,"y":356},{"x":24.76,"y":364},{"x":24.97,"y":356},{"x":25.07,"y":368},{"x":25.28,"y":376},{"x":25.5,"y":389},{"x":25.39,"y":401},{"x":25.18,"y":413},{"x":25.28,"y":426},{"x":25.5,"y":434},{"x":25.71,"y":446},{"x":25.6,"y":455},{"x":25.39,"y":463},{"x":25.71,"y":471},{"x":25.5,"y":488},{"x":25.81,"y":500},{"x":26.02,"y":508},{"x":26.13,"y":529},{"x":26.23,"y":541},{"x":26.34,"y":554},{"x":26.44,"y":566},{"x":26.55,"y":578},{"x":26.65,"y":587},{"x":26.76,"y":599},{"x":26.55,"y":611},{"x":26.44,"y":624},{"x":26.65,"y":632},{"x":26.76,"y":640},{"x":26.97,"y":649},{"x":27.08,"y":661},{"x":27.18,"y":669},{"x":27.29,"y":677},{"x":27.39,"y":694},{"x":27.5,"y":706},{"x":27.6,"y":719},{"x":27.5,"y":747},{"x":27.39,"y":768},{"x":27.81,"y":801},{"x":29.5,"y":813},{"x":29.81,"y":826},{"x":29.04,"y":651},{"x":28.45,"y":602},{"x":24.76,"y":696},{"x":24.02,"y":665},{"x":21.03,"y":836},{"x":24.86,"y":389},{"x":24.97,"y":422},{"x":24.82,"y":438},{"x":25.07,"y":459},{"x":24.86,"y":484},{"x":25.12,"y":500},{"x":25.5,"y":504},{"x":25.71,"y":500},{"x":26.17,"y":591},{"x":26.34,"y":578}],
"Dc":[{"x":14.5,"y":1280},{"x":2.86,"y":611},{"x":6.11,"y":715},{"x":10.74,"y":216},{"x":14.45,"y":522},{"x":20.48,"y":1007},{"x":24.42,"y":566},{"x":25.45,"y":653},{"x":25.71,"y":654},{"x":26.65,"y":762},{"x":27.5,"y":681},{"x":27.81,"y":879},{"x":33.19,"y":515}],
"Ds":[{"x":14.5,"y":1289},{"x":6.11,"y":733},{"x":2.86,"y":593},{"x":8.12,"y":560},{"x":10.74,"y":193},{"x":14.38,"y":485},{"x":20.53,"y":940},{"x":27.92,"y":799},{"x":26.72,"y":688},{"x":27.6,"y":607},{"x":25.5,"y":584},{"x":25.81,"y":591},{"x":24.55,"y":506},{"x":33.23,"y":459}],
"cgrid":[{"x":31,"x2":46,"y":100},{"x":31,"x2":46,"y":200},{"x":31,"x2":46,"y":300},{"x":31,"x2":46,"y":400},{"x":31,"x2":46,"y":500},{"x":31,"x2":46,"y":600},{"x":31,"x2":46,"y":700},{"x":31,"x2":46,"y":800},{"x":31,"x2":46,"y":900},{"x":31,"x2":46,"y":1000},{"x":31,"x2":46,"y":1100},{"x":31,"x2":46,"y":1200},{"x":31,"x2":46,"y":1300}],
"rects":[
{"p":"A","x":31.41,"x2":32.46,"y":23.9,"y2":22.95,"f":"#000","s":"transparent","w":0},
{"p":"A","x":36.31,"x2":45.86,"y":23.88,"y2":22.45,"f":"#fff","s":"#333","w":1.5},
{"p":"A","x":42.18,"x2":45.75,"y":23.61,"y2":23.2,"f":"#fff","s":"#666","w":1},
{"p":"A","x":42.18,"x2":45.75,"y":22.94,"y2":22.53,"f":"#fff","s":"#666","w":1},
{"p":"A","x":31.12,"x2":39.4,"y":14.23,"y2":12.05,"f":"#fff","s":"#333","w":1.5},
{"p":"A","x":32.17,"x2":33.52,"y":22.69,"y2":22.28,"f":"#000","s":"transparent","w":0},
{"p":"A","x":45.1,"x2":45.9,"y":15.66,"y2":15.26,"f":"#000","s":"transparent","w":0},
{"p":"A","x":33.89,"x2":35.63,"y":17.36,"y2":16.98,"f":"#d7262b","s":"transparent","w":0},
{"p":"A","x":35.71,"x2":37.23,"y":15.98,"y2":15.58,"f":"#d7262b","s":"transparent","w":0},
{"p":"B","x":2.6,"x2":8.8,"y":23.95,"y2":22.55,"f":"#fff","s":"transparent","w":0},
{"p":"B","x":0.24,"x2":2.55,"y":23.9,"y2":22.95,"f":"#000","s":"transparent","w":0},
{"p":"B","x":23.56,"x2":31.43,"y":23.61,"y2":23.22,"f":"#fff","s":"#444","w":1},
{"p":"B","x":24.6,"x2":31.54,"y":23.06,"y2":22.61,"f":"#fff","s":"#444","w":1},
{"p":"B","x":0.23,"x2":4.47,"y":17.91,"y2":17.5,"f":"#000","s":"transparent","w":0},
{"p":"B","x":29.69,"x2":33.74,"y":19.66,"y2":19.17,"f":"#000","s":"transparent","w":0},
{"p":"B","x":19.05,"x2":25.18,"y":12.8,"y2":12.34,"f":"#000","s":"transparent","w":0},
{"p":"C","x":32.2,"x2":34.75,"y":1300,"y2":1160,"f":"#fff","s":"transparent","w":0},
{"p":"C","x":31.09,"x2":32.14,"y":1289,"y2":1195,"f":"#000","s":"transparent","w":0},
{"p":"C","x":39.13,"x2":42.51,"y":1289,"y2":1238,"f":"#fff","s":"#444","w":1},
{"p":"C","x":39.38,"x2":42.27,"y":1230,"y2":1180,"f":"#fff","s":"#444","w":1},
{"p":"C","x":43.79,"x2":44.85,"y":1284,"y2":1246,"f":"#000","s":"transparent","w":0},
{"p":"C","x":34.12,"x2":35.89,"y":859,"y2":824,"f":"#d7262b","s":"transparent","w":0},
{"p":"C","x":38.06,"x2":39.66,"y":750,"y2":712,"f":"#d7262b","s":"transparent","w":0},
{"p":"C","x":32.14,"x2":33.5,"y":195,"y2":150,"f":"#000","s":"transparent","w":0},
{"p":"D","x":11.0,"x2":13.45,"y":1300,"y2":1195,"f":"#fff","s":"transparent","w":0},
{"p":"D","x":0.25,"x2":2.5,"y":1289,"y2":1196,"f":"#000","s":"transparent","w":0},
{"p":"D","x":25.58,"x2":33.69,"y":1279,"y2":1226,"f":"#fff","s":"#444","w":1},
{"p":"D","x":26.67,"x2":33.51,"y":1199,"y2":1149,"f":"#fff","s":"#444","w":1},
{"p":"D","x":21.34,"x2":27.36,"y":999,"y2":956,"f":"#000","s":"transparent","w":0},
{"p":"D","x":4.3,"x2":8.66,"y":533,"y2":484,"f":"#000","s":"transparent","w":0},
{"p":"D","x":15.08,"x2":18.09,"y":521,"y2":475,"f":"#000","s":"transparent","w":0},
{"p":"D","x":29.52,"x2":33.51,"y":434,"y2":387,"f":"#000","s":"transparent","w":0},
{"p":"C","x":31,"x2":46,"y":100,"y2":1300,"f":"transparent","s":"#222","w":2}],
"dash":[{"p":"A","x":31,"y":20.72,"x2":45,"y2":13.76},{"p":"A","x":41.17,"y":22.76,"x2":42.02,"y2":22.76},{"p":"B","x":0.5,"y":14.57,"x2":33.3,"y2":18.05},{"p":"C","x":31.1,"y":251,"x2":45.15,"y2":960},{"p":"D","x":0.3,"y":795,"x2":33.3,"y2":568}],
"rules":[
{"p":"A","x":31,"y":22.65,"x2":45,"y2":16.19,"c":"#000","w":3},
{"p":"A","x":41.17,"y":23.46,"x2":42.02,"y2":23.46,"c":"#000","w":2.5},
{"p":"A","x":33.78,"y":20.05,"x2":33.78,"y2":22.2,"c":"#000","w":2},
{"p":"A","x":45.0,"y":13.68,"x2":45.0,"y2":15.6,"c":"#000","w":2},
{"p":"A","x":36.18,"y":18.2,"x2":36.18,"y2":19.78,"c":"#d32f2f","w":2.5},
{"p":"A","x":37.73,"y":16.45,"x2":37.73,"y2":18.23,"c":"#d32f2f","w":2.5},
{"p":"A","x":35.5,"y":17.36,"x2":36.12,"y2":17.98,"c":"#d32f2f","w":1},
{"p":"A","x":37.04,"y":15.96,"x2":37.64,"y2":16.2,"c":"#d32f2f","w":1},
{"p":"B","x":0,"y":16.725,"x2":33.4,"y2":20.3,"c":"#000","w":3},
{"p":"B","x":2.9,"y":16.2,"x2":2.9,"y2":17.3,"c":"#000","w":2},
{"p":"B","x":33.25,"y":18.05,"x2":33.25,"y2":19.0,"c":"#000","w":2},
{"p":"B","x":25.6,"y":13.1,"x2":25.6,"y2":15.4,"c":"#000","w":2},
{"p":"C","x":31.1,"y":174,"x2":45.15,"y2":953,"c":"#000","w":3},
{"p":"C","x":36.21,"y":866,"x2":36.21,"y2":830,"c":"#d32f2f","w":2},
{"p":"C","x":37.77,"y":748,"x2":37.77,"y2":714,"c":"#d32f2f","w":2},
{"p":"D","x":0,"y":814.5,"x2":33.25,"y2":496,"c":"#000","w":3}],
"heads":[{"p":"A","x":33.78,"y":22.22,"sh":"triangle-up","c":"#000"},{"p":"A","x":45.0,"y":15.62,"sh":"triangle-up","c":"#000"},{"p":"A","x":36.18,"y":19.8,"sh":"triangle-up","c":"#d32f2f"},{"p":"A","x":37.73,"y":18.25,"sh":"triangle-up","c":"#d32f2f"},{"p":"B","x":2.9,"y":17.3,"sh":"triangle-up","c":"#000"},{"p":"B","x":33.25,"y":19.02,"sh":"triangle-up","c":"#000"},{"p":"B","x":25.6,"y":15.42,"sh":"triangle-up","c":"#000"},{"p":"C","x":36.21,"y":826,"sh":"triangle-down","c":"#d32f2f"},{"p":"C","x":37.77,"y":710,"sh":"triangle-down","c":"#d32f2f"}],
"tb":[
{"p":"A","x":31.93,"y":23.42,"t":"A","c":"#fff","z":40},
{"p":"B","x":1.4,"y":23.42,"t":"B","c":"#fff","z":40},
{"p":"C","x":31.61,"y":1242,"t":"C","c":"#fff","z":40},
{"p":"D","x":1.37,"y":1242,"t":"D","c":"#fff","z":40},
{"p":"A","x":32.85,"y":22.48,"t":"Jerba","c":"#fff","z":15},
{"p":"A","x":45.5,"y":15.46,"t":"Krk","c":"#fff","z":15},
{"p":"B","x":2.35,"y":17.7,"t":"Majorca","c":"#fff","z":15},
{"p":"B","x":31.72,"y":19.41,"t":"Cyprus","c":"#fff","z":15},
{"p":"B","x":22.12,"y":12.57,"t":"Samothrace","c":"#fff","z":15},
{"p":"C","x":44.32,"y":1265,"t":"Krk","c":"#fff","z":15},
{"p":"C","x":32.82,"y":172,"t":"Jerba","c":"#fff","z":15},
{"p":"D","x":24.35,"y":977,"t":"Cephalonia","c":"#fff","z":15},
{"p":"D","x":6.48,"y":508,"t":"Asinara","c":"#fff","z":15},
{"p":"D","x":16.58,"y":498,"t":"Malta","c":"#fff","z":15},
{"p":"D","x":31.52,"y":410,"t":"Cyprus","c":"#fff","z":15},
{"p":"A","x":36.14,"y":13.9,"t":"WC0","c":"#000","z":20},
{"p":"A","x":38.37,"y":13.9,"t":"WC123","c":"#000","z":20}],
"tn":[
{"p":"A","x":34.76,"y":17.17,"t":"Rhodes","c":"#fff","z":15},
{"p":"A","x":36.47,"y":15.78,"t":"Samos","c":"#fff","z":15},
{"p":"C","x":35.0,"y":841,"t":"Rhodes","c":"#fff","z":15},
{"p":"C","x":38.86,"y":731,"t":"Samos","c":"#fff","z":15},
{"p":"A","x":43.96,"y":23.41,"t":"y = -0,4609x + 36,935","c":"#555","z":11.5},
{"p":"A","x":43.96,"y":22.74,"t":"y = -0,4972x + 36,133","c":"#555","z":11.5},
{"p":"B","x":27.5,"y":23.41,"t":"y = 0,1071x + 16,725","c":"#333","z":11.5},
{"p":"B","x":28.07,"y":22.83,"t":"y = 0,1062x + 14,515","c":"#555","z":11.5},
{"p":"C","x":40.82,"y":1263,"t":"y = 55,437x - 1550,3","c":"#333","z":11.5},
{"p":"C","x":40.82,"y":1205,"t":"y = 50,46x - 1318,5","c":"#555","z":11.5},
{"p":"D","x":29.64,"y":1253,"t":"y = -9,5864x + 814,52","c":"#333","z":11.5},
{"p":"D","x":30.09,"y":1174,"t":"y = -6,8946x + 797,3","c":"#555","z":11.5},
{"p":"A","x":36.08,"y":13.41,"t":"(1950-2000)","c":"#000","z":16},
{"p":"A","x":38.4,"y":13.41,"t":"(2050)","c":"#000","z":16}],
"tbl":[{"p":"A","x":36.45,"y":23.44,"t":"WC123 (2050)","c":"#000","z":20},{"p":"A","x":36.45,"y":22.77,"t":"WC0 (1950-2000)","c":"#000","z":20}],
"tnr":[{"p":"A","x":34.54,"y":12.83,"t":"Island","c":"#000","z":17},{"p":"A","x":34.54,"y":12.34,"t":"Selected island","c":"#000","z":17}]
},
"columns":2,
"align":"none",
"bounds":"full",
"spacing":{"row":11,"column":11},
"concat":[
{"width":544,"height":489,
"encoding":{"x":{"field":"x","type":"quantitative","scale":{"domain":[31,46],"nice":false,"zero":false},"axis":{"values":[31,32,33,34,35,36,37,38,39,40,41,42,43,44,45,46],"title":null}},
"y":{"field":"y","type":"quantitative","scale":{"domain":[12,24],"nice":false,"zero":false},"axis":{"values":[12,13,14,15,16,17,18,19,20,21,22,23,24],"title":"Tma : mean annual temperature (°C)","titleFontSize":22,"titlePadding":20}}},
"layer":[
{"data":{"name":"rects"},"transform":[{"filter":"datum.p==='A'"}],"mark":{"type":"rect"},"encoding":{"x2":{"field":"x2"},"y2":{"field":"y2"},"fill":{"field":"f","type":"nominal","scale":null},"stroke":{"field":"s","type":"nominal","scale":null},"strokeWidth":{"field":"w","type":"quantitative","scale":null}}},
{"data":{"name":"A0"},"mark":{"type":"circle","size":26,"color":"#a3a3a3","opacity":1}},
{"data":{"name":"A1"},"mark":{"type":"circle","size":32,"color":"#000","opacity":1}},
{"data":{"name":"dash"},"transform":[{"filter":"datum.p==='A'"}],"mark":{"type":"rule","color":"#a6a6a6","strokeWidth":3,"strokeDash":[12,7]},"encoding":{"x2":{"field":"x2"},"y2":{"field":"y2"}}},
{"data":{"name":"rules"},"transform":[{"filter":"datum.p==='A'"}],"mark":{"type":"rule"},"encoding":{"x2":{"field":"x2"},"y2":{"field":"y2"},"color":{"field":"c","type":"nominal","scale":null},"strokeWidth":{"field":"w","type":"quantitative","scale":null}}},
{"data":{"name":"Ac"},"mark":{"type":"point","shape":"circle","size":150,"filled":true,"fill":"#fff","stroke":"#a3a3a3","strokeWidth":1.4,"opacity":1}},
{"data":{"name":"Ac"},"mark":{"type":"circle","size":18,"color":"#a3a3a3","opacity":1}},
{"data":{"name":"As"},"mark":{"type":"point","shape":"square","size":160,"filled":true,"fill":"#fff","stroke":"#1a1a1a","strokeWidth":1.6,"opacity":1}},
{"data":{"name":"As"},"mark":{"type":"circle","size":20,"color":"#000","opacity":1}},
{"data":{"name":"red"},"mark":{"type":"circle","size":75,"color":"#e3191c","opacity":1}},
{"data":{"name":"heads"},"transform":[{"filter":"datum.p==='A'"}],"mark":{"type":"point","filled":true,"size":60,"opacity":1},"encoding":{"shape":{"field":"sh","type":"nominal","scale":null},"color":{"field":"c","type":"nominal","scale":null}}},
{"data":{"name":"tb"},"transform":[{"filter":"datum.p==='A'"}],"mark":{"type":"text","fontWeight":"bold","align":"center","baseline":"middle"},"encoding":{"text":{"field":"t"},"color":{"field":"c","type":"nominal","scale":null},"size":{"field":"z","type":"quantitative","scale":null}}},
{"data":{"name":"tn"},"transform":[{"filter":"datum.p==='A'"}],"mark":{"type":"text","fontWeight":"normal","align":"center","baseline":"middle"},"encoding":{"text":{"field":"t"},"color":{"field":"c","type":"nominal","scale":null},"size":{"field":"z","type":"quantitative","scale":null}}},
{"data":{"name":"tbl"},"mark":{"type":"text","fontWeight":"bold","align":"left","baseline":"middle"},"encoding":{"text":{"field":"t"},"color":{"field":"c","type":"nominal","scale":null},"size":{"field":"z","type":"quantitative","scale":null}}},
{"data":{"name":"tnr"},"mark":{"type":"text","fontWeight":"normal","align":"right","baseline":"middle"},"encoding":{"text":{"field":"t"},"color":{"field":"c","type":"nominal","scale":null},"size":{"field":"z","type":"quantitative","scale":null}}}
]},
{"width":539,"height":489,
"encoding":{"x":{"field":"x","type":"quantitative","scale":{"domain":[0,34],"nice":false,"zero":false},"axis":{"values":[0,2,4,6,8,10,12,14,16,18,20,22,24,26,28,30,32,34],"title":null}},
"y":{"field":"y","type":"quantitative","scale":{"domain":[12,24],"nice":false,"zero":false},"axis":{"values":[12,13,14,15,16,17,18,19,20,21,22,23,24],"labels":false,"title":null}}},
"layer":[
{"data":{"name":"rects"},"transform":[{"filter":"datum.p==='B'"}],"mark":{"type":"rect"},"encoding":{"x2":{"field":"x2"},"y2":{"field":"y2"},"fill":{"field":"f","type":"nominal","scale":null},"stroke":{"field":"s","type":"nominal","scale":null},"strokeWidth":{"field":"w","type":"quantitative","scale":null}}},
{"data":{"name":"B0"},"mark":{"type":"circle","size":26,"color":"#a3a3a3","opacity":1}},
{"data":{"name":"B1"},"mark":{"type":"circle","size":32,"color":"#000","opacity":1}},
{"data":{"name":"dash"},"transform":[{"filter":"datum.p==='B'"}],"mark":{"type":"rule","color":"#a6a6a6","strokeWidth":3,"strokeDash":[12,7]},"encoding":{"x2":{"field":"x2"},"y2":{"field":"y2"}}},
{"data":{"name":"rules"},"transform":[{"filter":"datum.p==='B'"}],"mark":{"type":"rule"},"encoding":{"x2":{"field":"x2"},"y2":{"field":"y2"},"color":{"field":"c","type":"nominal","scale":null},"strokeWidth":{"field":"w","type":"quantitative","scale":null}}},
{"data":{"name":"Bc"},"mark":{"type":"point","shape":"circle","size":150,"filled":true,"fill":"#fff","stroke":"#a3a3a3","strokeWidth":1.4,"opacity":1}},
{"data":{"name":"Bc"},"mark":{"type":"circle","size":18,"color":"#a3a3a3","opacity":1}},
{"data":{"name":"Bs"},"mark":{"type":"point","shape":"square","size":160,"filled":true,"fill":"#fff","stroke":"#1a1a1a","strokeWidth":1.6,"opacity":1}},
{"data":{"name":"Bs"},"mark":{"type":"circle","size":20,"color":"#000","opacity":1}},
{"data":{"name":"heads"},"transform":[{"filter":"datum.p==='B'"}],"mark":{"type":"point","filled":true,"size":60,"opacity":1},"encoding":{"shape":{"field":"sh","type":"nominal","scale":null},"color":{"field":"c","type":"nominal","scale":null}}},
{"data":{"name":"tb"},"transform":[{"filter":"datum.p==='B'"}],"mark":{"type":"text","fontWeight":"bold","align":"center","baseline":"middle"},"encoding":{"text":{"field":"t"},"color":{"field":"c","type":"nominal","scale":null},"size":{"field":"z","type":"quantitative","scale":null}}},
{"data":{"name":"tn"},"transform":[{"filter":"datum.p==='B'"}],"mark":{"type":"text","fontWeight":"normal","align":"center","baseline":"middle"},"encoding":{"text":{"field":"t"},"color":{"field":"c","type":"nominal","scale":null},"size":{"field":"z","type":"quantitative","scale":null}}}
]},
{"width":544,"height":485,"view":{"stroke":null},
"encoding":{"x":{"field":"x","type":"quantitative","scale":{"domain":[30.69,46],"nice":false,"zero":false},"axis":{"values":[31,32,33,34,35,36,37,38,39,40,41,42,43,44,45,46],"title":"Latitude (La)","titleFontSize":28,"titlePadding":4,"titleX":248}},
"y":{"field":"y","type":"quantitative","scale":{"domain":[100,1300],"nice":false,"zero":false},"axis":{"values":[100,200,300,400,500,600,700,800,900,1000,1100,1200,1300],"format":"d","grid":false,"offset":-11,"title":"Pma : mean annual precipitation (mm)","titleFontSize":22,"titlePadding":18}}},
"layer":[
{"data":{"name":"cgrid"},"mark":{"type":"rule","color":"#d4d4d4","strokeWidth":1},"encoding":{"x2":{"field":"x2"}}},
{"data":{"name":"rects"},"transform":[{"filter":"datum.p==='C'"}],"mark":{"type":"rect"},"encoding":{"x2":{"field":"x2"},"y2":{"field":"y2"},"fill":{"field":"f","type":"nominal","scale":null},"stroke":{"field":"s","type":"nominal","scale":null},"strokeWidth":{"field":"w","type":"quantitative","scale":null}}},
{"data":{"name":"C0"},"mark":{"type":"circle","size":26,"color":"#a3a3a3","opacity":1}},
{"data":{"name":"C1"},"mark":{"type":"circle","size":32,"color":"#000","opacity":1}},
{"data":{"name":"dash"},"transform":[{"filter":"datum.p==='C'"}],"mark":{"type":"rule","color":"#a6a6a6","strokeWidth":3,"strokeDash":[12,7]},"encoding":{"x2":{"field":"x2"},"y2":{"field":"y2"}}},
{"data":{"name":"rules"},"transform":[{"filter":"datum.p==='C'"}],"mark":{"type":"rule"},"encoding":{"x2":{"field":"x2"},"y2":{"field":"y2"},"color":{"field":"c","type":"nominal","scale":null},"strokeWidth":{"field":"w","type":"quantitative","scale":null}}},
{"data":{"name":"Cc"},"mark":{"type":"point","shape":"circle","size":150,"filled":true,"fill":"#fff","stroke":"#a3a3a3","strokeWidth":1.4,"opacity":1}},
{"data":{"name":"Cc"},"mark":{"type":"circle","size":18,"color":"#a3a3a3","opacity":1}},
{"data":{"name":"Cs"},"mark":{"type":"point","shape":"square","size":160,"filled":true,"fill":"#fff","stroke":"#1a1a1a","strokeWidth":1.6,"opacity":1}},
{"data":{"name":"Cs"},"mark":{"type":"circle","size":20,"color":"#000","opacity":1}},
{"data":{"name":"heads"},"transform":[{"filter":"datum.p==='C'"}],"mark":{"type":"point","filled":true,"size":60,"opacity":1},"encoding":{"shape":{"field":"sh","type":"nominal","scale":null},"color":{"field":"c","type":"nominal","scale":null}}},
{"data":{"name":"tb"},"transform":[{"filter":"datum.p==='C'"}],"mark":{"type":"text","fontWeight":"bold","align":"center","baseline":"middle"},"encoding":{"text":{"field":"t"},"color":{"field":"c","type":"nominal","scale":null},"size":{"field":"z","type":"quantitative","scale":null}}},
{"data":{"name":"tn"},"transform":[{"filter":"datum.p==='C'"}],"mark":{"type":"text","fontWeight":"normal","align":"center","baseline":"middle"},"encoding":{"text":{"field":"t"},"color":{"field":"c","type":"nominal","scale":null},"size":{"field":"z","type":"quantitative","scale":null}}}
]},
{"width":538,"height":485,
"encoding":{"x":{"field":"x","type":"quantitative","scale":{"domain":[0,34],"nice":false,"zero":false},"axis":{"values":[0,2,4,6,8,10,12,14,16,18,20,22,24,26,28,30,32,34],"title":"Longitude (Lo)","titleFontSize":28,"titlePadding":4}},
"y":{"field":"y","type":"quantitative","scale":{"domain":[100,1300],"nice":false,"zero":false},"axis":{"values":[100,200,300,400,500,600,700,800,900,1000,1100,1200,1300],"labels":false,"title":null}}},
"layer":[
{"data":{"name":"rects"},"transform":[{"filter":"datum.p==='D'"}],"mark":{"type":"rect"},"encoding":{"x2":{"field":"x2"},"y2":{"field":"y2"},"fill":{"field":"f","type":"nominal","scale":null},"stroke":{"field":"s","type":"nominal","scale":null},"strokeWidth":{"field":"w","type":"quantitative","scale":null}}},
{"data":{"name":"D0"},"mark":{"type":"circle","size":26,"color":"#a3a3a3","opacity":1}},
{"data":{"name":"D1"},"mark":{"type":"circle","size":32,"color":"#000","opacity":1}},
{"data":{"name":"dash"},"transform":[{"filter":"datum.p==='D'"}],"mark":{"type":"rule","color":"#a6a6a6","strokeWidth":3,"strokeDash":[12,7]},"encoding":{"x2":{"field":"x2"},"y2":{"field":"y2"}}},
{"data":{"name":"rules"},"transform":[{"filter":"datum.p==='D'"}],"mark":{"type":"rule"},"encoding":{"x2":{"field":"x2"},"y2":{"field":"y2"},"color":{"field":"c","type":"nominal","scale":null},"strokeWidth":{"field":"w","type":"quantitative","scale":null}}},
{"data":{"name":"Dc"},"mark":{"type":"point","shape":"circle","size":150,"filled":true,"fill":"#fff","stroke":"#a3a3a3","strokeWidth":1.4,"opacity":1}},
{"data":{"name":"Dc"},"mark":{"type":"circle","size":18,"color":"#a3a3a3","opacity":1}},
{"data":{"name":"Ds"},"mark":{"type":"point","shape":"square","size":160,"filled":true,"fill":"#fff","stroke":"#1a1a1a","strokeWidth":1.6,"opacity":1}},
{"data":{"name":"Ds"},"mark":{"type":"circle","size":20,"color":"#000","opacity":1}},
{"data":{"name":"tb"},"transform":[{"filter":"datum.p==='D'"}],"mark":{"type":"text","fontWeight":"bold","align":"center","baseline":"middle"},"encoding":{"text":{"field":"t"},"color":{"field":"c","type":"nominal","scale":null},"size":{"field":"z","type":"quantitative","scale":null}}},
{"data":{"name":"tn"},"transform":[{"filter":"datum.p==='D'"}],"mark":{"type":"text","fontWeight":"normal","align":"center","baseline":"middle"},"encoding":{"text":{"field":"t"},"color":{"field":"c","type":"nominal","scale":null},"size":{"field":"z","type":"quantitative","scale":null}}}
]}
]
}
